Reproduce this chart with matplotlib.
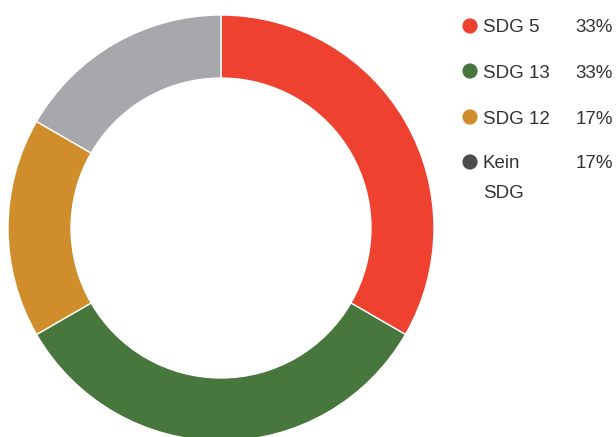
import matplotlib
matplotlib.use("Agg")
from matplotlib import pyplot as plt

# data
labels = ["SDG 5", "SDG 13", "SDG 12", "Kein\nSDG"]
values = [2, 2, 1, 1]
percents = ["33%", "33%", "17%", "17%"]
slice_colors = ["#EF4130", "#48773E", "#CF8E2B", "#A7A8AB"]
legend_colors = ["#EF4130", "#48773E", "#CF8E2B", "#4D4D4F"]

plt.rcParams["font.family"] = ["Liberation Sans", "DejaVu Sans"]

W, H = 616, 437
fig = plt.figure(figsize=(W / 100, H / 100), dpi=100)

# donut: centre (221, 228) px from top, outer radius 213 px
cx, cy, R = 221, 228, 213
ax = fig.add_axes([(cx - R) / W, (H - cy - R) / H, 2 * R / W, 2 * R / H])
ax.pie(values, colors=slice_colors, startangle=90, counterclock=False,
       radius=1, wedgeprops=dict(width=0.296, edgecolor="white", linewidth=1))
ax.set_xlim(-1, 1)
ax.set_ylim(-1, 1)
ax.set_aspect("equal")
ax.axis("off")

# legend drawn in pixel coordinates
lax = fig.add_axes([0, 0, 1, 1], facecolor="none")
lax.set_xlim(0, W)
lax.set_ylim(H, 0)
lax.axis("off")
row_y = [26, 71, 117, 162]
for lab, pct, col, y in zip(labels, percents, legend_colors, row_y):
    lax.scatter([470], [y], s=120, color=col, edgecolors="none")
    first, *rest = lab.split("\n")
    ty = y + 2  # text sits a touch lower than the dot centre
    lax.text(483, ty, first, fontsize=13.5, color="#333333", va="center", ha="left")
    for i, line in enumerate(rest, start=1):
        lax.text(483, ty + 30 * i, line, fontsize=13.5, color="#333333", va="center", ha="left")
    lax.text(613, ty, pct, fontsize=13.5, color="#333333", va="center", ha="right")

fig.savefig("out.png", dpi=100)
